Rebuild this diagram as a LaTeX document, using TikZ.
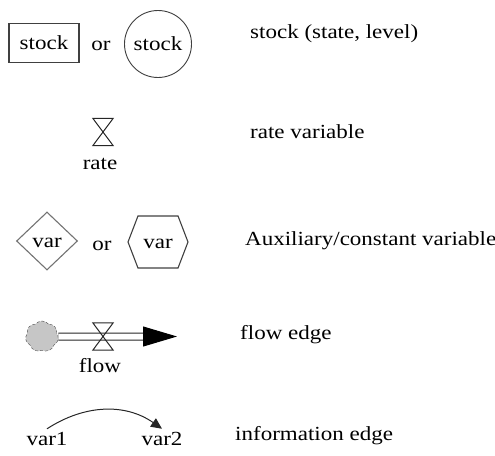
\documentclass[tikz,border=0pt]{standalone}
\usepackage{fontspec}
\setmainfont[FakeStretch=1.15]{Liberation Serif}
\usetikzlibrary{arrows.meta,shapes.geometric,shapes.symbols}

\begin{document}
\begin{tikzpicture}[x=1pt,y=1pt,>=stealth,
    font=\fontsize{20}{24}\selectfont,
    every node/.style={inner sep=0pt},
    shp/.style={draw=black!75, line width=1.1pt, text height=13pt, text depth=1pt},
    stockbox/.style={shp, rectangle, minimum width=70pt, minimum height=39pt},
    stockcirc/.style={shp, circle, minimum size=67pt, line width=0.9pt},
    auxdiam/.style={shp, diamond, draw=black!55, minimum width=61pt, minimum height=58pt},
    auxhex/.style={shp, signal, signal to=west and east, signal pointer angle=138,
        minimum width=60pt, minimum height=52pt},
    valve/.style={minimum width=20pt, minimum height=27pt},
    valveline/.style={draw=black!85, line width=1pt, line join=miter},
    pipe/.style={draw=black!85, line width=1pt, double, double distance=6pt},
    flowhead/.style={-{Triangle[length=34pt,width=20pt]}, line width=1pt},
    infoedge/.style={-{Triangle[length=11pt,width=10pt]}, line width=1pt, black!85},
    varname/.style={anchor=base, outer sep=3pt},
    lbl/.style={anchor=base west}]

    \useasboundingbox (0,0) rectangle (495,-455);

    % stocks
    \node[stockbox] (sbox) at (44,-43) {stock};
    \node[anchor=base] (or1) at (101,-50) {or};
    \node[stockcirc] (scirc) at (158,-44) {stock};
    \node[lbl] (lstock) at (250,-38) {stock (state, level)};

    % rates
    \node[valve] (rv) at (103,-132) {};
    \draw[valveline] (rv.north west) -- (rv.north east) -- (rv.south west) -- (rv.south east) -- cycle;
    \node[anchor=base] (rname) at (100,-169) {rate};
    \node[lbl] (lrate) at (250,-138) {rate variable};

    % auxiliaries
    \node[auxdiam] (vdiam) at (47,-241) {var};
    \node[anchor=base] (or2) at (102,-250) {or};
    \node[auxhex] (vhex) at (158,-242) {var};
    \node[lbl] (laux) at (245,-245) {Auxiliary/constant variable};

    % flow
    \node[cloud, cloud puffs=7, cloud puff arc=100, aspect=1, draw=black!70, densely dashed,
          fill=gray!45, minimum width=33pt, minimum height=31pt] (src) at (42,-336.5) {};
    \coordinate (flowback) at (143,-336.5);
    \coordinate (flowend) at (177,-336.5);
    \draw[pipe] (src) -- (flowback);
    \draw[flowhead] (flowback) -- (flowend);
    \node[valve] (fv) at (103,-336.5) {};
    \draw[valveline] (fv.north west) -- (fv.north east) -- (fv.south west) -- (fv.south east) -- cycle;
    \node[anchor=base] (fname) at (100,-372) {flow};
    \node[lbl] (lflow) at (240,-339) {flow edge};

    % information
    \node[varname] (var1) at (47,-445) {var1};
    \node[varname] (var2) at (162,-445) {var2};
    \draw[infoedge] (var1.north) to[out=33,in=145] (var2.north);
    \node[lbl] (linfo) at (235,-440) {information edge};
\end{tikzpicture}
\end{document}
